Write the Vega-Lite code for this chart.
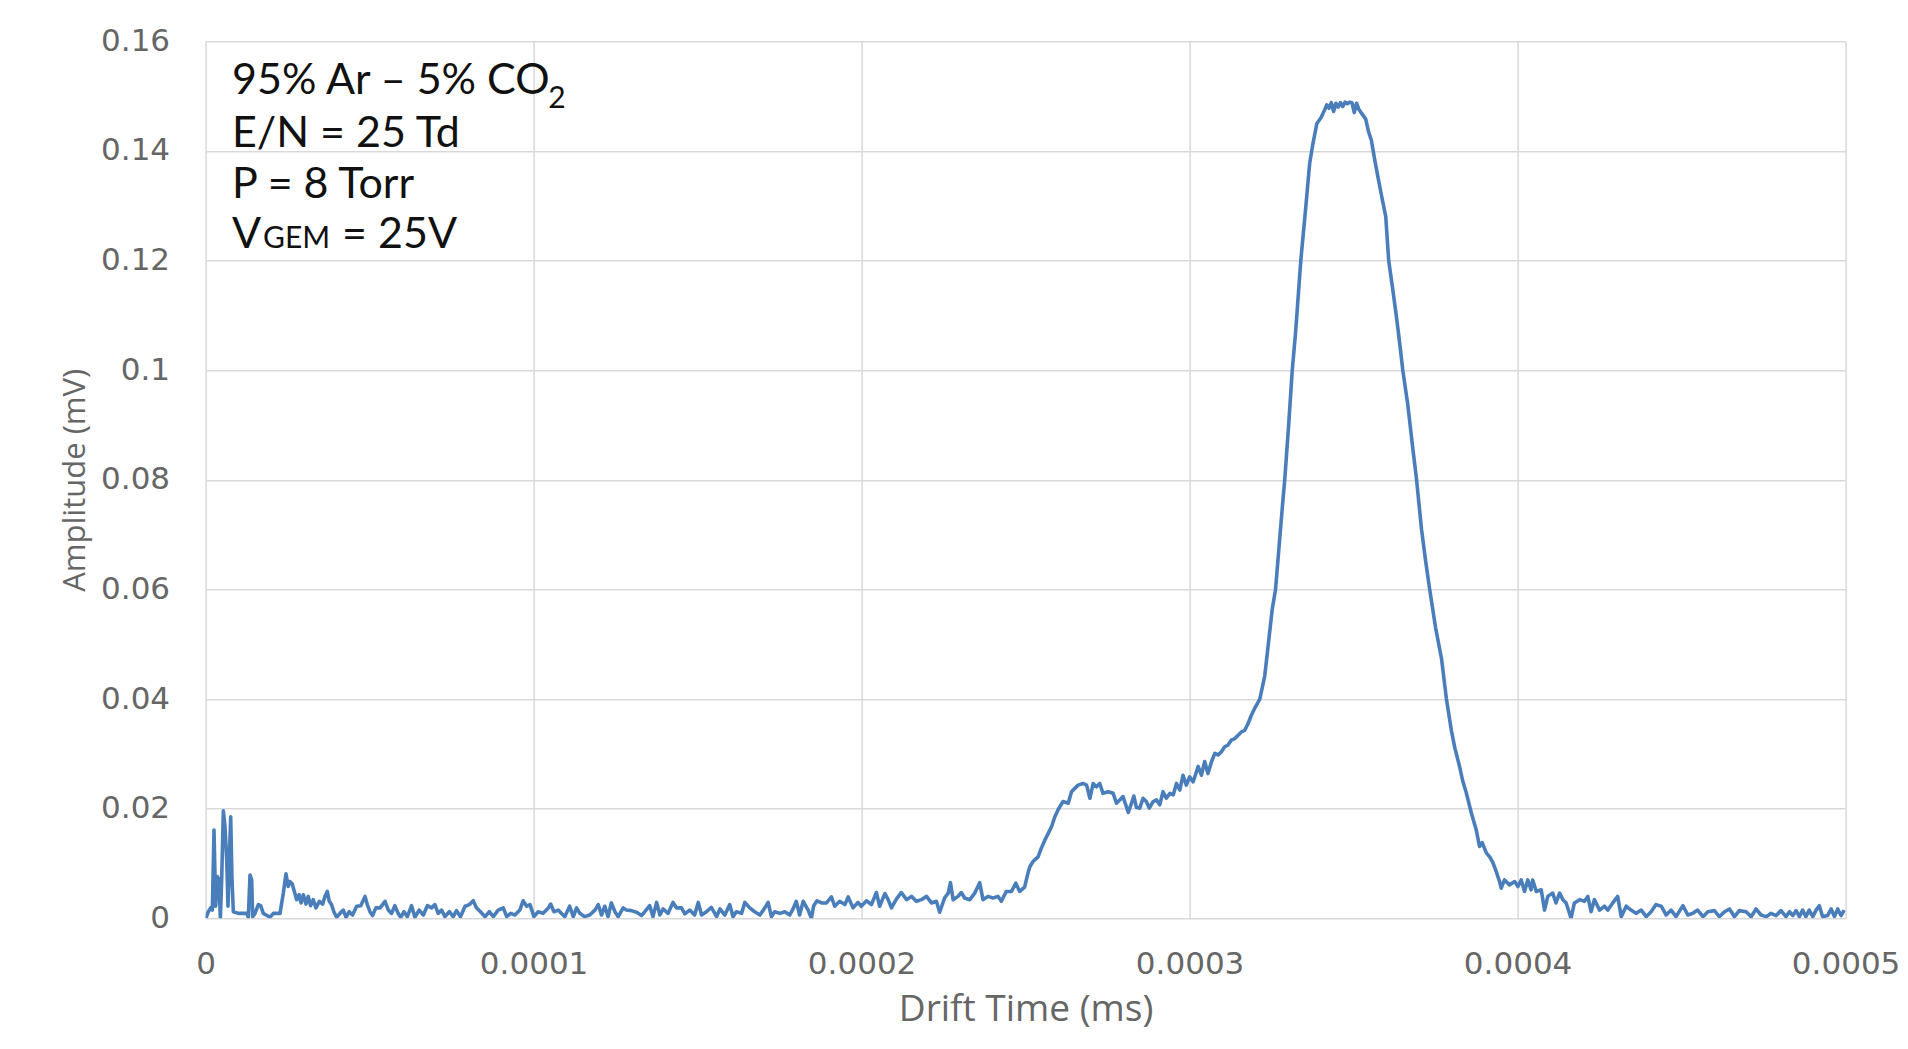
{
  "$schema": "https://vega.github.io/schema/vega-lite/v6.json",
  "width": 1640,
  "height": 877,
  "autosize": {"type": "none"},
  "padding": {"left": 205.6, "top": 41.3, "right": 62.4, "bottom": 130.7},
  "background": "white",
  "config": {
    "view": {"stroke": null},
    "axis": {
      "grid": true, "gridColor": "#d9d9d9", "gridWidth": 1.5,
      "domain": false, "ticks": false, "tickSize": 0,
      "labelFont": "DejaVu Sans", "labelFontSize": 31, "labelColor": "#666666",
      "labelOverlap": false, "labelFlush": false,
      "titleFontWeight": "normal", "titleColor": "#666666"
    }
  },
  "datasets": {
    "signal": [
      {"time":0.1e-6,"amp":0},{"time":0.84e-6,"amp":0.0012},{"time":1.55e-6,"amp":0.0019},{"time":2.06e-6,"amp":0.0015},{"time":2.56e-6,"amp":0.0161},{"time":3.07e-6,"amp":0.0022},{"time":3.58e-6,"amp":0.0076},{"time":4.09e-6,"amp":0.0070},{"time":4.5e-6,"amp":0},{"time":4.9e-6,"amp":0.0070},{"time":5.41e-6,"amp":0.0196},{"time":5.92e-6,"amp":0.0167},{"time":6.43e-6,"amp":0.0107},{"time":6.83e-6,"amp":0.0022},{"time":7.24e-6,"amp":0.0107},{"time":7.65e-6,"amp":0.0185},{"time":8.05e-6,"amp":0.0070},{"time":8.46e-6,"amp":0.0012},{"time":9.98e-6,"amp":0.0009},{"time":12.52e-6,"amp":0.0009},{"time":13.03e-6,"amp":0.0002},{"time":13.54e-6,"amp":0.0079},{"time":14.05e-6,"amp":0.0070},{"time":14.35e-6,"amp":0.0003},{"time":15.06e-6,"amp":0.0009},{"time":16.08e-6,"amp":0.0025},{"time":16.79e-6,"amp":0.0023},{"time":17.6e-6,"amp":0.0009},{"time":19.63e-6,"amp":0.0002},{"time":20.65e-6,"amp":0.0009},{"time":22.68e-6,"amp":0.0009},{"time":23.7e-6,"amp":0.0046},{"time":24.5e-6,"amp":0.0081},{"time":25.2e-6,"amp":0.0058},{"time":25.7e-6,"amp":0.0067},{"time":26.4e-6,"amp":0.0063},{"time":27.05e-6,"amp":0.0049},{"time":27.76e-6,"amp":0.0034},{"time":28.5e-6,"amp":0.0043},{"time":29.1e-6,"amp":0.0028},{"time":29.8e-6,"amp":0.0043},{"time":30.6e-6,"amp":0.0026},{"time":31.3e-6,"amp":0.0040},{"time":32.0e-6,"amp":0.0023},{"time":32.8e-6,"amp":0.0034},{"time":33.65e-6,"amp":0.0019},{"time":34.7e-6,"amp":0.0031},{"time":35.7e-6,"amp":0.0026},{"time":36.4e-6,"amp":0.0040},{"time":37.1e-6,"amp":0.0049},{"time":37.7e-6,"amp":0.0031},{"time":38.4e-6,"amp":0.0025},{"time":39.1e-6,"amp":0.0012},{"time":39.95e-6,"amp":0.0002},{"time":40.97e-6,"amp":0.0009},{"time":41.98e-6,"amp":0.0015},{"time":42.8e-6,"amp":0.0002},{"time":43.8e-6,"amp":0.0012},{"time":44.8e-6,"amp":0.0006},{"time":46.05e-6,"amp":0.0022},{"time":47.3e-6,"amp":0.0023},{"time":48.6e-6,"amp":0.0040},{"time":49.3e-6,"amp":0.0025},{"time":50.1e-6,"amp":0.0012},{"time":50.9e-6,"amp":0.0005},{"time":51.9e-6,"amp":0.0019},{"time":53.2e-6,"amp":0.0019},{"time":54.7e-6,"amp":0.0031},{"time":55.7e-6,"amp":0.0015},{"time":56.7e-6,"amp":0.0009},{"time":57.7e-6,"amp":0.0023},{"time":58.7e-6,"amp":0.0009},{"time":59.5e-6,"amp":0.0002},{"time":60.5e-6,"amp":0.0012},{"time":61.5e-6,"amp":0.0003},{"time":62.8e-6,"amp":0.0023},{"time":63.8e-6,"amp":0.0002},{"time":65.1e-6,"amp":0.0015},{"time":66.4e-6,"amp":0.0006},{"time":67.6e-6,"amp":0.0023},{"time":68.9e-6,"amp":0.0019},{"time":69.9e-6,"amp":0.0025},{"time":70.9e-6,"amp":0.0009},{"time":71.95e-6,"amp":0.0015},{"time":72.97e-6,"amp":0.0003},{"time":74.3e-6,"amp":0.0012},{"time":75.5e-6,"amp":0.0003},{"time":76.5e-6,"amp":0.0014},{"time":77.7e-6,"amp":0.0003},{"time":79.1e-6,"amp":0.0022},{"time":80.4e-6,"amp":0.0025},{"time":81.6e-6,"amp":0.0032},{"time":82.6e-6,"amp":0.0019},{"time":83.8e-6,"amp":0.0012},{"time":85.2e-6,"amp":0.0003},{"time":86.5e-6,"amp":0.0012},{"time":87.7e-6,"amp":0.0003},{"time":89.2e-6,"amp":0.0015},{"time":90.75e-6,"amp":0.0019},{"time":91.8e-6,"amp":0.0003},{"time":93.0e-6,"amp":0.0009},{"time":94.3e-6,"amp":0.0006},{"time":95.8e-6,"amp":0.0015},{"time":96.8e-6,"amp":0.0032},{"time":97.9e-6,"amp":0.0022},{"time":98.9e-6,"amp":0.0025},{"time":100.1e-6,"amp":0.0003},{"time":101.4e-6,"amp":0.0012},{"time":102.9e-6,"amp":0.0009},{"time":104.5e-6,"amp":0.0019},{"time":105.2e-6,"amp":0.0026},{"time":106.2e-6,"amp":0.0012},{"time":107.5e-6,"amp":0.0015},
      {"time":108.0e-6,"amp":0.0012},{"time":109.5e-6,"amp":0.0003},{"time":111.0e-6,"amp":0.0022},{"time":112.1e-6,"amp":0.0003},{"time":113.1e-6,"amp":0.0019},{"time":114.1e-6,"amp":0.0009},{"time":115.6e-6,"amp":0.0003},{"time":117.1e-6,"amp":0.0006},{"time":118.7e-6,"amp":0.0015},{"time":119.7e-6,"amp":0.0025},{"time":120.7e-6,"amp":0.0006},{"time":121.7e-6,"amp":0.0022},{"time":122.7e-6,"amp":0.0003},{"time":123.7e-6,"amp":0.0028},{"time":124.8e-6,"amp":0.0012},{"time":125.8e-6,"amp":0.0003},{"time":127.3e-6,"amp":0.0019},{"time":128.3e-6,"amp":0.0015},{"time":129.8e-6,"amp":0.0014},{"time":131.4e-6,"amp":0.0011},{"time":132.9e-6,"amp":0.0005},{"time":133.9e-6,"amp":0.0012},{"time":135.4e-6,"amp":0.0023},{"time":136.4e-6,"amp":0.0003},{"time":137.5e-6,"amp":0.0029},{"time":138.5e-6,"amp":0.0006},{"time":139.5e-6,"amp":0.0017},{"time":141.0e-6,"amp":0.0009},{"time":142.5e-6,"amp":0.0029},{"time":143.6e-6,"amp":0.0019},{"time":145.1e-6,"amp":0.0019},{"time":146.1e-6,"amp":0.0008},{"time":147.6e-6,"amp":0.0015},{"time":149.1e-6,"amp":0.0006},{"time":150.2e-6,"amp":0.0029},{"time":151.2e-6,"amp":0.0006},{"time":152.7e-6,"amp":0.0012},{"time":154.2e-6,"amp":0.0020},{"time":155.8e-6,"amp":0.0003},{"time":156.8e-6,"amp":0.0017},{"time":158.3e-6,"amp":0.0006},{"time":159.8e-6,"amp":0.0025},{"time":160.8e-6,"amp":0.0003},{"time":161.8e-6,"amp":0.0012},{"time":163.4e-6,"amp":0.0009},{"time":164.4e-6,"amp":0.0029},{"time":165.9e-6,"amp":0.0019},{"time":167.4e-6,"amp":0.0012},{"time":169.0e-6,"amp":0.0006},{"time":170.5e-6,"amp":0.0019},{"time":171.5e-6,"amp":0.0029},{"time":172.5e-6,"amp":0.0003},{"time":173.5e-6,"amp":0.0012},{"time":175.1e-6,"amp":0.0009},{"time":176.6e-6,"amp":0.0012},{"time":178.1e-6,"amp":0.0006},{"time":179.1e-6,"amp":0.0017},{"time":180.1e-6,"amp":0.0031},{"time":181.1e-6,"amp":0.0006},{"time":182.2e-6,"amp":0.0031},{"time":183.7e-6,"amp":0.0015},{"time":184.7e-6,"amp":0.0000},{"time":185.4e-6,"amp":0.0023},{"time":186.4e-6,"amp":0.0032},{"time":187.8e-6,"amp":0.0028},{"time":189.3e-6,"amp":0.0028},{"time":190.8e-6,"amp":0.0039},{"time":191.8e-6,"amp":0.0022},{"time":193.3e-6,"amp":0.0031},{"time":194.9e-6,"amp":0.0025},{"time":195.9e-6,"amp":0.0039},{"time":197.4e-6,"amp":0.0019},{"time":198.9e-6,"amp":0.0029},{"time":199.9e-6,"amp":0.0022},{"time":201.5e-6,"amp":0.0032},{"time":203.0e-6,"amp":0.0025},{"time":204.5e-6,"amp":0.0047},{"time":205.5e-6,"amp":0.0022},{"time":207.1e-6,"amp":0.0045},{"time":208.1e-6,"amp":0.0034},{"time":209.1e-6,"amp":0.0019},{"time":210.6e-6,"amp":0.0035},{"time":212.1e-6,"amp":0.0047},{"time":213.7e-6,"amp":0.0034},{"time":215.2e-6,"amp":0.0040},{"time":216.7e-6,"amp":0.0031},{"time":218.2e-6,"amp":0.0034},{"time":219.8e-6,"amp":0.0040},{"time":221.3e-6,"amp":0.0028},{"time":222.8e-6,"amp":0.0031},{"time":223.8e-6,"amp":0.0011},{"time":225.3e-6,"amp":0.0037},{"time":226.4e-6,"amp":0.0046},{"time":227.1e-6,"amp":0.0065},{"time":227.9e-6,"amp":0.0034},{"time":229.4e-6,"amp":0.0040},{"time":230.4e-6,"amp":0.0047},{"time":231.4e-6,"amp":0.0037},{"time":233.0e-6,"amp":0.0034},{"time":234.5e-6,"amp":0.0046},{"time":236.0e-6,"amp":0.0065},{"time":237.0e-6,"amp":0.0034},{"time":238.5e-6,"amp":0.0040},{"time":240.1e-6,"amp":0.0037},{"time":241.6e-6,"amp":0.0040},{"time":242.6e-6,"amp":0.0031},{"time":244.1e-6,"amp":0.0049},{"time":245.7e-6,"amp":0.0049},{"time":247.0e-6,"amp":0.0064},{"time":248.2e-6,"amp":0.0049},{"time":249.7e-6,"amp":0.0057},
      {"time":250.7e-6,"amp":0.0082},{"time":251.3e-6,"amp":0.0094},{"time":252.3e-6,"amp":0.0104},{"time":253.8e-6,"amp":0.0112},{"time":254.8e-6,"amp":0.0128},{"time":255.9e-6,"amp":0.0143},{"time":256.9e-6,"amp":0.0155},{"time":257.9e-6,"amp":0.0167},{"time":258.9e-6,"amp":0.0185},{"time":259.9e-6,"amp":0.0198},{"time":261.4e-6,"amp":0.0213},{"time":263.0e-6,"amp":0.0210},{"time":264.0e-6,"amp":0.0231},{"time":265.0e-6,"amp":0.0237},{"time":266.0e-6,"amp":0.0243},{"time":267.5e-6,"amp":0.0246},{"time":268.6e-6,"amp":0.0243},{"time":269.6e-6,"amp":0.0219},{"time":270.6e-6,"amp":0.0246},{"time":271.6e-6,"amp":0.0240},{"time":272.6e-6,"amp":0.0246},{"time":273.6e-6,"amp":0.0228},{"time":275.2e-6,"amp":0.0231},{"time":276.7e-6,"amp":0.0228},{"time":277.7e-6,"amp":0.0210},{"time":278.7e-6,"amp":0.0216},{"time":279.7e-6,"amp":0.0222},{"time":281.3e-6,"amp":0.0193},{"time":282.3e-6,"amp":0.0210},{"time":283.0e-6,"amp":0.0223},{"time":283.8e-6,"amp":0.0202},{"time":284.8e-6,"amp":0.0201},{"time":285.8e-6,"amp":0.0219},{"time":286.8e-6,"amp":0.0213},{"time":287.7e-6,"amp":0.0201},{"time":288.9e-6,"amp":0.0213},{"time":289.9e-6,"amp":0.0216},{"time":290.9e-6,"amp":0.0207},{"time":291.9e-6,"amp":0.0231},{"time":292.9e-6,"amp":0.0219},{"time":294.0e-6,"amp":0.0228},{"time":295.0e-6,"amp":0.0225},{"time":296.0e-6,"amp":0.0246},{"time":297.0e-6,"amp":0.0234},{"time":298.0e-6,"amp":0.0261},{"time":299.0e-6,"amp":0.0243},{"time":300.0e-6,"amp":0.0258},{"time":301.1e-6,"amp":0.0249},{"time":302.6e-6,"amp":0.0277},{"time":303.6e-6,"amp":0.0261},{"time":304.6e-6,"amp":0.0286},{"time":305.6e-6,"amp":0.0264},{"time":306.7e-6,"amp":0.0286},{"time":307.7e-6,"amp":0.0301},{"time":308.7e-6,"amp":0.0298},{"time":309.7e-6,"amp":0.0304},{"time":310.7e-6,"amp":0.0313},{"time":311.7e-6,"amp":0.0316},{"time":312.7e-6,"amp":0.0325},{"time":313.8e-6,"amp":0.0328},{"time":314.8e-6,"amp":0.0334},{"time":315.8e-6,"amp":0.0340},{"time":316.8e-6,"amp":0.0343},{"time":317.8e-6,"amp":0.0355},{"time":318.8e-6,"amp":0.0370},{"time":320.0e-6,"amp":0.0385},
      {"time":321.4e-6,"amp":0.0400},{"time":322.9e-6,"amp":0.0442},{"time":324.0e-6,"amp":0.0500},{"time":325.2e-6,"amp":0.0564},{"time":326.2e-6,"amp":0.0600},{"time":327.3e-6,"amp":0.0680},{"time":328.4e-6,"amp":0.0759},{"time":329.0e-6,"amp":0.0800},{"time":330.2e-6,"amp":0.0900},{"time":331.3e-6,"amp":0.1000},{"time":332.3e-6,"amp":0.1068},{"time":333.9e-6,"amp":0.1200},{"time":335.4e-6,"amp":0.1296},{"time":336.6e-6,"amp":0.1377},{"time":337.5e-6,"amp":0.1410},{"time":338.8e-6,"amp":0.1450},{"time":340.0e-6,"amp":0.1460},{"time":341.2e-6,"amp":0.1475},{"time":341.8e-6,"amp":0.1484},{"time":342.5e-6,"amp":0.1478},{"time":343.2e-6,"amp":0.1488},{"time":343.9e-6,"amp":0.1472},{"time":344.6e-6,"amp":0.1487},{"time":345.3e-6,"amp":0.1480},{"time":346.0e-6,"amp":0.1488},{"time":346.7e-6,"amp":0.1481},{"time":347.4e-6,"amp":0.1489},{"time":348.1e-6,"amp":0.1486},{"time":348.8e-6,"amp":0.1489},{"time":349.5e-6,"amp":0.1488},{"time":350.2e-6,"amp":0.1470},{"time":350.9e-6,"amp":0.1487},{"time":351.6e-6,"amp":0.1476},{"time":352.5e-6,"amp":0.1468},{"time":353.7e-6,"amp":0.1458},{"time":354.6e-6,"amp":0.1434},{"time":355.4e-6,"amp":0.1420},{"time":356.4e-6,"amp":0.1385},{"time":357.5e-6,"amp":0.1350},{"time":358.6e-6,"amp":0.1316},{"time":359.8e-6,"amp":0.1280},{"time":360.7e-6,"amp":0.1200},{"time":361.9e-6,"amp":0.1149},{"time":363.0e-6,"amp":0.1100},{"time":364.0e-6,"amp":0.1052},{"time":365.0e-6,"amp":0.1000},{"time":366.5e-6,"amp":0.0938},{"time":367.8e-6,"amp":0.0870},{"time":369.2e-6,"amp":0.0800},{"time":370.7e-6,"amp":0.0710},{"time":372.0e-6,"amp":0.0650},{"time":373.2e-6,"amp":0.0600},{"time":375.0e-6,"amp":0.0530},{"time":376.8e-6,"amp":0.0474},{"time":378.3e-6,"amp":0.0400},{"time":379.8e-6,"amp":0.0343},{"time":380.9e-6,"amp":0.0310},{"time":382.3e-6,"amp":0.0277},{"time":383.3e-6,"amp":0.0250},{"time":384.4e-6,"amp":0.0228},{"time":385.9e-6,"amp":0.0192},{"time":387.4e-6,"amp":0.0161},{"time":388.4e-6,"amp":0.0131},{"time":389.2e-6,"amp":0.0138},{"time":390.5e-6,"amp":0.0119},{"time":391.5e-6,"amp":0.0112},{"time":392.5e-6,"amp":0.0101},{"time":393.5e-6,"amp":0.0085},{"time":394.5e-6,"amp":0.0067},{"time":395.0e-6,"amp":0.0055},{"time":396.0e-6,"amp":0.0070},{"time":397.5e-6,"amp":0.0061},{"time":399.1e-6,"amp":0.0067},{"time":400.1e-6,"amp":0.0058},{"time":401.1e-6,"amp":0.0070},{"time":402.1e-6,"amp":0.0049},{"time":403.1e-6,"amp":0.0070},{"time":404.1e-6,"amp":0.0052},{"time":404.6e-6,"amp":0.0070},{"time":405.7e-6,"amp":0.0049},{"time":407.2e-6,"amp":0.0052},{"time":408.2e-6,"amp":0.0015},{"time":409.2e-6,"amp":0.0040},{"time":410.7e-6,"amp":0.0046},{"time":411.7e-6,"amp":0.0028},{"time":412.8e-6,"amp":0.0046},{"time":413.8e-6,"amp":0.0034},{"time":414.8e-6,"amp":0.0028},{"time":416.3e-6,"amp":0.0000},{"time":417.3e-6,"amp":0.0028},{"time":418.9e-6,"amp":0.0034},{"time":420.4e-6,"amp":0.0031},{"time":421.4e-6,"amp":0.0040},{"time":422.4e-6,"amp":0.0012},{"time":423.4e-6,"amp":0.0034},{"time":425.0e-6,"amp":0.0015},{"time":426.5e-6,"amp":0.0022},{"time":427.5e-6,"amp":0.0015},{"time":429.0e-6,"amp":0.0028},{"time":430.5e-6,"amp":0.0040},{"time":431.6e-6,"amp":0.0003},{"time":433.1e-6,"amp":0.0022},{"time":434.6e-6,"amp":0.0015},{"time":436.1e-6,"amp":0.0009},{"time":437.7e-6,"amp":0.0015},{"time":439.2e-6,"amp":0.0003},{"time":440.7e-6,"amp":0.0012},{"time":442.2e-6,"amp":0.0025},{"time":443.8e-6,"amp":0.0022},{"time":445.3e-6,"amp":0.0006},{"time":446.8e-6,"amp":0.0015},{"time":448.3e-6,"amp":0.0003},{"time":450.4e-6,"amp":0.0023},{"time":451.9e-6,"amp":0.0006},{"time":453.4e-6,"amp":0.0009},{"time":454.9e-6,"amp":0.0015},{"time":456.5e-6,"amp":0.0003},{"time":458.0e-6,"amp":0.0012},{"time":460.0e-6,"amp":0.0014},{"time":461.5e-6,"amp":0.0003},{"time":463.1e-6,"amp":0.0012},{"time":464.6e-6,"amp":0.0017},{"time":466.1e-6,"amp":0.0003},{"time":467.6e-6,"amp":0.0014},{"time":469.7e-6,"amp":0.0012},{"time":471.2e-6,"amp":0.0003},{"time":472.7e-6,"amp":0.0017},{"time":474.2e-6,"amp":0.0006},{"time":475.8e-6,"amp":0.0003},{"time":477.3e-6,"amp":0.0009},{"time":478.8e-6,"amp":0.0005},{"time":480.3e-6,"amp":0.0014},{"time":481.8e-6,"amp":0.0003},{"time":482.9e-6,"amp":0.0012},{"time":483.9e-6,"amp":0.0005},{"time":484.9e-6,"amp":0.0014},{"time":485.9e-6,"amp":0.0003},{"time":486.9e-6,"amp":0.0015},{"time":487.9e-6,"amp":0.0003},{"time":488.9e-6,"amp":0.0015},{"time":490.0e-6,"amp":0.0003},{"time":491.0e-6,"amp":0.0015},{"time":492.0e-6,"amp":0.0023},{"time":493.0e-6,"amp":0.0003},{"time":494.5e-6,"amp":0.0005},{"time":495.6e-6,"amp":0.0017},{"time":496.6e-6,"amp":0.0003},{"time":497.6e-6,"amp":0.0017},{"time":498.6e-6,"amp":0.0005},{"time":499.6e-6,"amp":0.0015}
    ]
  },
  "layer": [
    {
      "data": {"name": "signal"},
      "mark": {"type": "line", "color": "#4a7ebb", "strokeWidth": 3.6, "strokeJoin": "round", "clip": true},
      "encoding": {
        "x": {
          "field": "time", "type": "quantitative",
          "scale": {"domain": [0, 0.0005], "nice": false, "zero": true},
          "axis": {
            "values": [0, 0.0001, 0.0002, 0.0003, 0.0004, 0.0005],
            "format": "~g", "labelPadding": 31,
            "title": "Drift Time (ms)", "titleFont": "Open Sans", "titleFontSize": 37,
            "titleX": 820, "titleY": 102, "titleBaseline": "alphabetic", "titleAlign": "center"
          }
        },
        "y": {
          "field": "amp", "type": "quantitative",
          "scale": {"domain": [0, 0.16], "nice": false},
          "axis": {
            "values": [0, 0.02, 0.04, 0.06, 0.08, 0.1, 0.12, 0.14, 0.16],
            "format": "~g", "labelPadding": 36,
            "title": "Amplitude (mV)", "titleFont": "Open Sans", "titleFontSize": 31,
            "titleAngle": -90, "titleX": -121, "titleY": 438.5, "titleBaseline": "alphabetic", "titleAlign": "center"
          }
        }
      }
    },
    {
      "data": {"values": [{}]},
      "mark": {"type": "text", "align": "left", "baseline": "alphabetic", "font": "Lato", "fontSize": 43, "color": "#111111"},
      "encoding": {"x": {"datum": 8.05e-6, "type": "quantitative"}, "y": {"datum": 0.1503, "type": "quantitative"}, "text": {"value": "95% Ar – 5% CO"}}
    },
    {
      "data": {"values": [{}]},
      "mark": {"type": "text", "align": "left", "baseline": "alphabetic", "font": "Lato", "fontSize": 30, "color": "#111111"},
      "encoding": {"x": {"datum": 104.5e-6, "type": "quantitative"}, "y": {"datum": 0.1479, "type": "quantitative"}, "text": {"value": "2"}}
    },
    {
      "data": {"values": [{}]},
      "mark": {"type": "text", "align": "left", "baseline": "alphabetic", "font": "Lato", "fontSize": 43, "color": "#111111"},
      "encoding": {"x": {"datum": 8.05e-6, "type": "quantitative"}, "y": {"datum": 0.1408, "type": "quantitative"}, "text": {"value": "E/N = 25 Td"}}
    },
    {
      "data": {"values": [{}]},
      "mark": {"type": "text", "align": "left", "baseline": "alphabetic", "font": "Lato", "fontSize": 43, "color": "#111111"},
      "encoding": {"x": {"datum": 8.05e-6, "type": "quantitative"}, "y": {"datum": 0.1314, "type": "quantitative"}, "text": {"value": "P = 8 Torr"}}
    },
    {
      "data": {"values": [{}]},
      "mark": {"type": "text", "align": "left", "baseline": "alphabetic", "font": "Lato", "fontSize": 43, "color": "#111111"},
      "encoding": {"x": {"datum": 8.05e-6, "type": "quantitative"}, "y": {"datum": 0.1223, "type": "quantitative"}, "text": {"value": "V"}}
    },
    {
      "data": {"values": [{}]},
      "mark": {"type": "text", "align": "left", "baseline": "alphabetic", "font": "Lato", "fontSize": 30, "color": "#111111"},
      "encoding": {"x": {"datum": 17.5e-6, "type": "quantitative"}, "y": {"datum": 0.1223, "type": "quantitative"}, "text": {"value": "GEM"}}
    },
    {
      "data": {"values": [{}]},
      "mark": {"type": "text", "align": "left", "baseline": "alphabetic", "font": "Lato", "fontSize": 43, "color": "#111111"},
      "encoding": {"x": {"datum": 41.6e-6, "type": "quantitative"}, "y": {"datum": 0.1223, "type": "quantitative"}, "text": {"value": "= 25V"}}
    }
  ]
}
